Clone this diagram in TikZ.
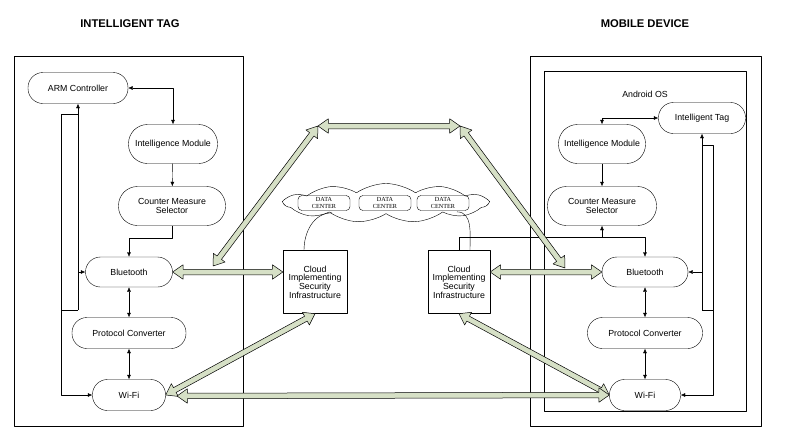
\documentclass[tikz,border=0pt]{standalone}
\usepackage{fontspec}
\setmainfont{Liberation Sans}
\newfontfamily\dcfont{Liberation Serif}
\usetikzlibrary{arrows.meta,shapes.symbols,shapes.arrows,calc}
\definecolor{pipegreen}{RGB}{214,224,198}
\tikzset{
  pill/.style={draw, rectangle, rounded corners=15pt, minimum height=31pt, inner sep=0pt, align=center},
  tallpill/.style={pill, rounded corners=19pt, minimum height=39pt},
  infra/.style={draw, rectangle, minimum width=64pt, minimum height=63pt, inner sep=0pt, align=center,
    font=\fontsize{8.8}{8.7}\selectfont},
  dcbox/.style={draw, rectangle, rounded corners=4pt, minimum width=52pt, minimum height=15pt, inner sep=0pt,
    align=center, font=\dcfont\fontsize{6.2}{6.6}\selectfont},
  title/.style={font=\bfseries\fontsize{11.2}{12}\selectfont},
  pipe/.style={double arrow, draw=black, line width=0.5pt, fill=pipegreen, inner xsep=0pt, inner ysep=2.5pt,
    double arrow head extend=4.5pt, double arrow tip angle=70, double arrow head indent=0pt},
}
\newcommand{\pipe}[2]{%
  \path let \p1=($(#2)-(#1)$), \n1={atan2(\y1,\x1)}, \n2={veclen(\x1,\y1)} in
    node[pipe, minimum height=\n2, rotate=\n1] at ($(#1)!0.5!(#2)$) {};}

\begin{document}
\begin{tikzpicture}[x=1pt, y=-1pt, line join=round, >={Latex[length=4.5pt,width=4pt]},
    font=\fontsize{8.8}{8.8}\selectfont]
  \useasboundingbox (0,0) rectangle (788,442);

  % frames and titles
  \draw (14,56) rectangle (243,426);
  \draw (530,56) rectangle (761,426);
  \draw (544,71) rectangle (746,411);
  \node[title] (titleL) at (130,24) {INTELLIGENT TAG};
  \node[title] (titleR) at (645,24) {MOBILE DEVICE};
  \node (os) at (645,94) {Android OS};

  % intelligent tag
  \node[pill, minimum width=100pt] (arm) at (78,88) {ARM Controller};
  \node[tallpill, minimum width=89pt] (imL) at (173,144) {Intelligence Module};
  \node[tallpill, minimum width=107pt] (cmsL) at (172,206) {Counter Measure\\Selector};
  \node[pill, minimum width=87pt, minimum height=30pt] (btL) at (129,272) {Bluetooth};
  \node[pill, minimum width=114pt] (pcL) at (129,333) {Protocol Converter};
  \node[pill, minimum width=73pt] (wifiL) at (129,395) {Wi-Fi};

  % mobile device
  \node[pill, minimum width=87pt] (tag) at (702,118) {Intelligent Tag};
  \node[tallpill, minimum width=87pt] (imR) at (602,144) {Intelligence Module};
  \node[tallpill, minimum width=109pt] (cmsR) at (602,206) {Counter Measure\\Selector};
  \node[pill, minimum width=86pt, minimum height=30pt] (btR) at (645,272) {Bluetooth};
  \node[pill, minimum width=115pt] (pcR) at (645,333) {Protocol Converter};
  \node[pill, minimum width=71pt] (wifiR) at (645,395) {Wi-Fi};

  % cloud
  \node[infra] (csiL) at (315,282) {Cloud\\Implementing\\Security\\Infrastructure};
  \node[infra, minimum width=62pt] (csiR) at (459,282) {Cloud\\Implementing\\Security\\Infrastructure};
  \node[draw, cloud, cloud puffs=11, cloud puff arc=70, aspect=5.2, minimum width=203pt,
    minimum height=39pt, inner sep=0pt] (dc) at (386,203) {};
  \foreach \n/\x in {dc1/324, dc2/385, dc3/443}
    \node[dcbox] (\n) at (\x,203) {DATA\\CENTER};
  \draw (csiL.north -| 304,0) to[out=90, in=180] ($(dc.south)+(-54,-1)$);
  \draw (csiR.north -| 470,0) to[out=90, in=0] ($(dc.south)+(71,-2)$);

  % wiring, tag side
  \draw[<->] (arm.east) -| (imL.north);
  \draw[->] (imL) -- (cmsL);
  \draw[->] (cmsL.south) -- ++(0,12) -| (btL.north);
  \draw[<->] (btL) -- (pcL);
  \draw[<->] (pcL) -- (wifiL);
  \coordinate (lpL) at (61,310);
  \draw[->] (arm.south |- lpL) -- (arm.south);
  \draw[->] (arm.south |- btL) -- (btL.west);
  \draw (arm.south |- lpL) -- (lpL) -- (lpL |- 0,114) -- (arm.south |- 0,114);
  \draw[->] (lpL) |- (wifiL.west);

  % wiring, device side
  \draw[<->] (imR.north) |- (tag.west);
  \draw[->] (imR) -- (cmsR);
  \draw[->] (csiR.north) -- ++(0,-13) coordinate (jR) -| (btR.north);
  \draw[->] (jR -| cmsR.south) -- (cmsR.south);
  \draw[<->] (btR) -- (pcR);
  \draw[<->] (pcR) -- (wifiR);
  \coordinate (lpR) at (713,310);
  \draw[->] (tag.south |- lpR) -- (tag.south);
  \draw[->] (tag.south |- btR) -- (btR.east);
  \draw (tag.south |- lpR) -- (lpR) -- (lpR |- 0,145) -- (tag.south |- 0,145);
  \draw[->] (lpR) |- (wifiR.east);

  % wide links
  \coordinate (hubL) at (318,126);
  \coordinate (hubR) at (460,126);
  \coordinate (btTip) at (213,266);
  \coordinate (btTipR) at (565,268);
  \coordinate (wifiTip) at (177,396);
  \pipe{btL.east}{btL.east -| csiL.west}
  \pipe{btR.west -| csiR.east}{btR.west}
  \pipe{btTip}{hubL}
  \pipe{hubL}{hubR}
  \pipe{hubR}{btTipR}
  \pipe{wifiL.east}{csiL.south}
  \pipe{csiR.south}{wifiR.west}
  \pipe{wifiTip}{wifiR.west}
\end{tikzpicture}
\end{document}
